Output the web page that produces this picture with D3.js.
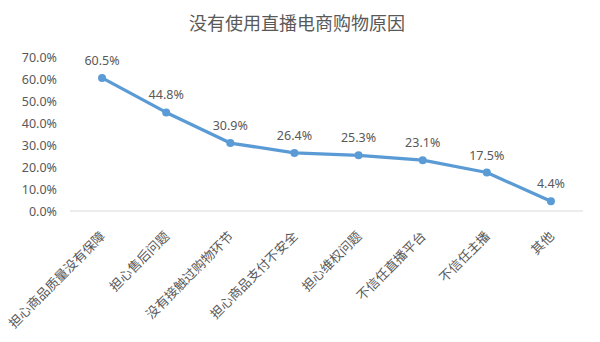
<!DOCTYPE html>
<html><head><meta charset="utf-8">
<script src="https://cdn.jsdelivr.net/npm/d3@7"></script>
<style>body{margin:0;background:#fff;}svg{display:block;}text{font-family:"Noto Sans CJK SC","Noto Sans",sans-serif;}</style>
</head><body><svg id="c" width="600" height="342"></svg>
<script>
const title = "没有使用直播电商购物原因";
const categories = ["担心商品质量没有保障","担心售后问题","没有接触过购物环节","担心商品支付不安全","担心维权问题","不信任直播平台","不信任主播","其他"];
const values = [0.605,0.448,0.309,0.264,0.253,0.231,0.175,0.044];
const yTicks = [0,0.1,0.2,0.3,0.4,0.5,0.6,0.7];

(function(){
const svg = d3.select("#c");
const mLeft = 70, mRight = 583, mTop = 57, mBottom = 211;
const x = d3.scaleBand().domain(categories).range([mLeft,mRight]);
const y = d3.scaleLinear().domain([0,0.7]).range([mBottom,mTop]);
const fmt = d3.format(".1%");
const gray = "#595959";

svg.append("text").attr("x",297).attr("y",30).attr("text-anchor","middle")
  .attr("font-size",18).attr("fill",gray).text(title);

const ya = svg.append("g").attr("transform",`translate(${mLeft},0)`)
  .call(d3.axisLeft(y).tickValues(yTicks).tickFormat(fmt).tickSize(0).tickPadding(13));
ya.select(".domain").remove();
ya.selectAll("text").attr("font-size",12.5).attr("fill",gray).style("font-family",'"Noto Sans","DejaVu Sans",sans-serif');

svg.append("line").attr("x1",mLeft).attr("x2",mRight).attr("y1",y(0)).attr("y2",y(0))
  .attr("stroke","#d9d9d9").attr("stroke-width",1);

const xa = svg.append("g").attr("transform",`translate(0,${mBottom})`)
  .call(d3.axisBottom(x).tickSize(0).tickPadding(0));
xa.select(".domain").remove();
xa.selectAll("text").attr("font-size",13).attr("fill",gray)
  .attr("text-anchor","end").attr("dy",0).attr("y",0)
  .attr("transform","translate(4,26) rotate(-45)");

const cx = d => x(d) + x.bandwidth()/2;
const line = d3.line().x((d,i)=>cx(categories[i])).y(d=>y(d));
svg.append("path").datum(values).attr("d",line).attr("fill","none")
  .attr("stroke","#5B9BD5").attr("stroke-width",3.25).attr("stroke-linejoin","round");
svg.selectAll("circle.p").data(values).join("circle").attr("class","p")
  .attr("cx",(d,i)=>cx(categories[i])).attr("cy",d=>y(d)).attr("r",4).attr("fill","#5B9BD5");
svg.selectAll("text.lbl").data(values).join("text").attr("class","lbl")
  .attr("x",(d,i)=>cx(categories[i])).attr("y",d=>y(d)-13).attr("text-anchor","middle")
  .attr("font-size",12.5).attr("fill",gray).style("font-family",'"Noto Sans","DejaVu Sans",sans-serif')
  .text(d=>fmt(d));
})();
</script></body></html>
